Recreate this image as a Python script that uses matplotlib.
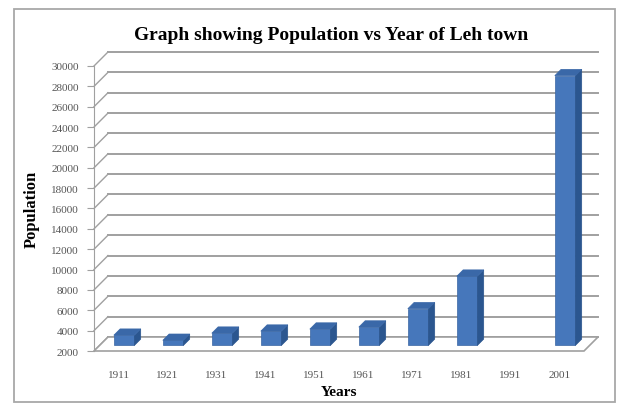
import numpy as np
import matplotlib.pyplot as plt
from matplotlib.patches import Polygon, Rectangle

# Данные (по графику)
years = ['1911', '1921', '1931', '1941', '1951', '1961', '1971', '1981', '1991', '2001']
population = [3000, 2500, 3200, 3400, 3600, 3800, 5600, 8800, np.nan, 28500]
y_ticks = list(range(2000, 30001, 2000))

fig = plt.figure(figsize=(6.25, 4.06), dpi=100)
ax = fig.add_axes([0.1504, 0.133, 0.784, 0.702])
ax.set_xlim(-0.5, 9.5)
ax.set_ylim(2000, 30000)

# глубина "3D" в пикселях -> в единицах данных
D = 14
W_px = 0.784 * 625
H_px = 0.702 * 406
dx = D / (W_px / 10)
dy = D / (H_px / 28000)

serif = ['Liberation Serif', 'DejaVu Serif']
grid_c = '#a0a0a0'

# рамка вокруг диаграммы
fig.patches.append(Rectangle((0.0224, 0.0074), 0.9616, 0.968, transform=fig.transFigure,
                             fill=False, edgecolor='#a8a8a8', lw=1.3))

# задняя стенка: линии сетки и диагонали на левой стенке
for t in y_ticks:
    ax.plot([-0.5 + dx, 9.5 + dx], [t + dy, t + dy], color=grid_c, lw=1.4, clip_on=False, zorder=1)
    ax.plot([-0.5, -0.5 + dx], [t, t + dy], color=grid_c, lw=1.0, clip_on=False, zorder=1)

# пол
floor = Polygon([(-0.5, 2000), (9.5, 2000), (9.5 + dx, 2000 + dy), (-0.5 + dx, 2000 + dy)],
                closed=True, facecolor='white', edgecolor=grid_c, lw=1.2, clip_on=False, zorder=2)
ax.add_patch(floor)

# столбцы
w = 0.42
f0, f1 = 0.4, 0.85
for i, v in enumerate(population):
    if np.isnan(v):
        continue
    x0 = i - w / 2 + f0 * dx
    x1 = x0 + w
    b = 2000 + f0 * dy
    top = v + f0 * dy
    ddx = (f1 - f0) * dx
    ddy = (f1 - f0) * dy
    ax.add_patch(Polygon([(x0, b), (x1, b), (x1, top), (x0, top)], closed=True,
                         facecolor='#4677bb', edgecolor='#3a66a3', lw=0.5, clip_on=False, zorder=3))
    ax.add_patch(Polygon([(x1, b), (x1 + ddx, b + ddy), (x1 + ddx, top + ddy), (x1, top)], closed=True,
                         facecolor='#2b568f', edgecolor='#2b568f', lw=0.5, clip_on=False, zorder=3))
    ax.add_patch(Polygon([(x0, top), (x1, top), (x1 + ddx, top + ddy), (x0 + ddx, top + ddy)], closed=True,
                         facecolor='#3a68a8', edgecolor='#3a68a8', lw=0.5, clip_on=False, zorder=3))

# оси
for s in ['top', 'right', 'bottom']:
    ax.spines[s].set_visible(False)
ax.spines['left'].set_color(grid_c)
ax.set_yticks(y_ticks)
ax.set_yticklabels([str(t) for t in y_ticks], family=serif, fontsize=8, color='#555555')
ax.tick_params(axis='y', length=5, color=grid_c, pad=6)
ax.set_xticks(range(len(years)))
ax.set_xticklabels(years, family=serif, fontsize=8, color='#555555')
ax.tick_params(axis='x', length=0, pad=14)

ax.set_xlabel('Years', family=serif, fontsize=11, fontweight='bold', labelpad=4)
ax.set_ylabel('Population', family=serif, fontsize=12, fontweight='bold', labelpad=8)
fig.text(0.53, 0.912, 'Graph showing Population vs Year of Leh town', family=serif,
         fontsize=14, fontweight='bold', ha='center', va='center')

fig.savefig('out.png', dpi=100)
